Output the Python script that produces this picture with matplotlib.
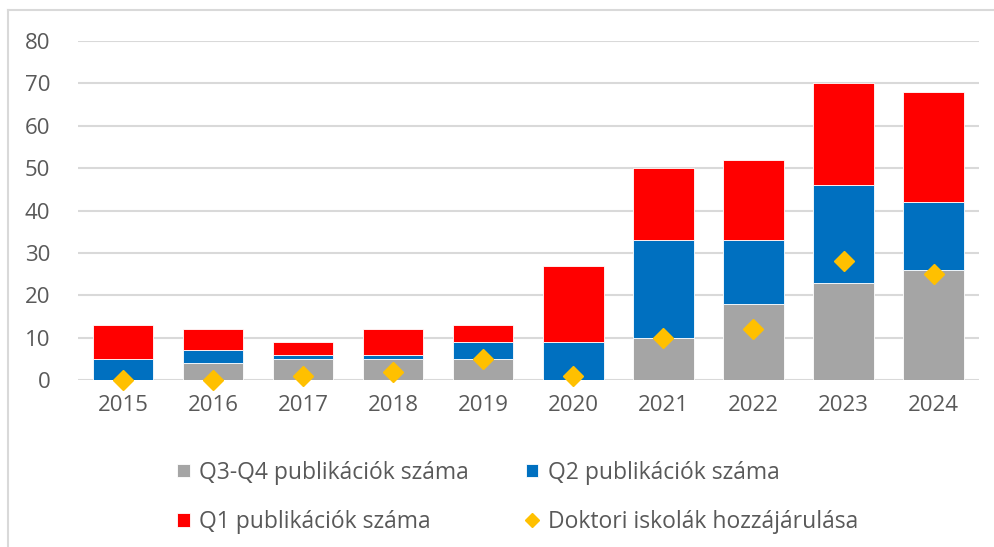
import numpy as np
import matplotlib.pyplot as plt
from matplotlib.lines import Line2D

years = ['2015', '2016', '2017', '2018', '2019', '2020', '2021', '2022', '2023', '2024']
q34 = [0, 4, 5, 5, 5, 0, 10, 18, 23, 26]
q2 = [5, 3, 1, 1, 4, 9, 23, 15, 23, 16]
q1 = [8, 5, 3, 6, 4, 18, 17, 19, 24, 26]
doktori = [0, 0, 1, 2, 5, 1, 10, 12, 28, 25]

plt.rcParams['font.family'] = ['Open Sans', 'DejaVu Sans']

fig = plt.figure(figsize=(9.94, 5.47), dpi=100)
ax = fig.add_axes([0.0785, 0.305, 0.906, 0.62])

x = np.arange(len(years))
q34 = np.array(q34)
q2 = np.array(q2)
q1 = np.array(q1)
w = 0.67
b1 = ax.bar(x, q34, w, color='#a5a5a5', edgecolor='white', linewidth=0.6, zorder=2)
b2 = ax.bar(x, q2, w, bottom=q34, color='#0070c0', edgecolor='white', linewidth=0.6, zorder=2)
b3 = ax.bar(x, q1, w, bottom=q34 + q2, color='#ff0000', edgecolor='white', linewidth=0.6, zorder=2)
ln, = ax.plot(x, doktori, linestyle='none', marker='D', markersize=10, color='#ffc000',
              zorder=3, clip_on=False)

ax.set_xlim(-0.5, len(years) - 0.5)
ax.set_ylim(0, 80)
ax.set_yticks(range(0, 81, 10))
ax.set_xticks(x)
ax.set_xticklabels(years)
ax.yaxis.grid(True, color='#d9d9d9', linewidth=1.5, zorder=0)
ax.set_axisbelow(True)
for s in ax.spines.values():
    s.set_visible(False)
ax.tick_params(length=0, labelsize=16, colors='#595959')
ax.tick_params(axis='x', pad=11)
ax.tick_params(axis='y', pad=20)

# column-major fill: col1 = Q3-Q4, Q1 ; col2 = Q2, Doktori
handles = [b1, b3, b2, ln]
labels = ['Q3-Q4 publikációk száma', 'Q1 publikációk száma',
          'Q2 publikációk száma', 'Doktori iskolák hozzájárulása']
fig.legend(handles, labels, ncol=2, loc='upper left', bbox_to_anchor=(0.178, 0.158),
           frameon=False, fontsize=16.5, labelcolor='#595959', handlelength=0.55,
           handleheight=0.55, handletextpad=0.4, columnspacing=2.5, labelspacing=1.1,
           borderpad=0, borderaxespad=0, markerscale=0.7)

# outer frame of the chart area
fig.add_artist(Line2D([0.008, 0.008], [0.0, 0.982], color='#d9d9d9', linewidth=1.5))
fig.add_artist(Line2D([0.008, 1.0], [0.982, 0.982], color='#d9d9d9', linewidth=1.5))

fig.savefig('out.png', dpi=100)
